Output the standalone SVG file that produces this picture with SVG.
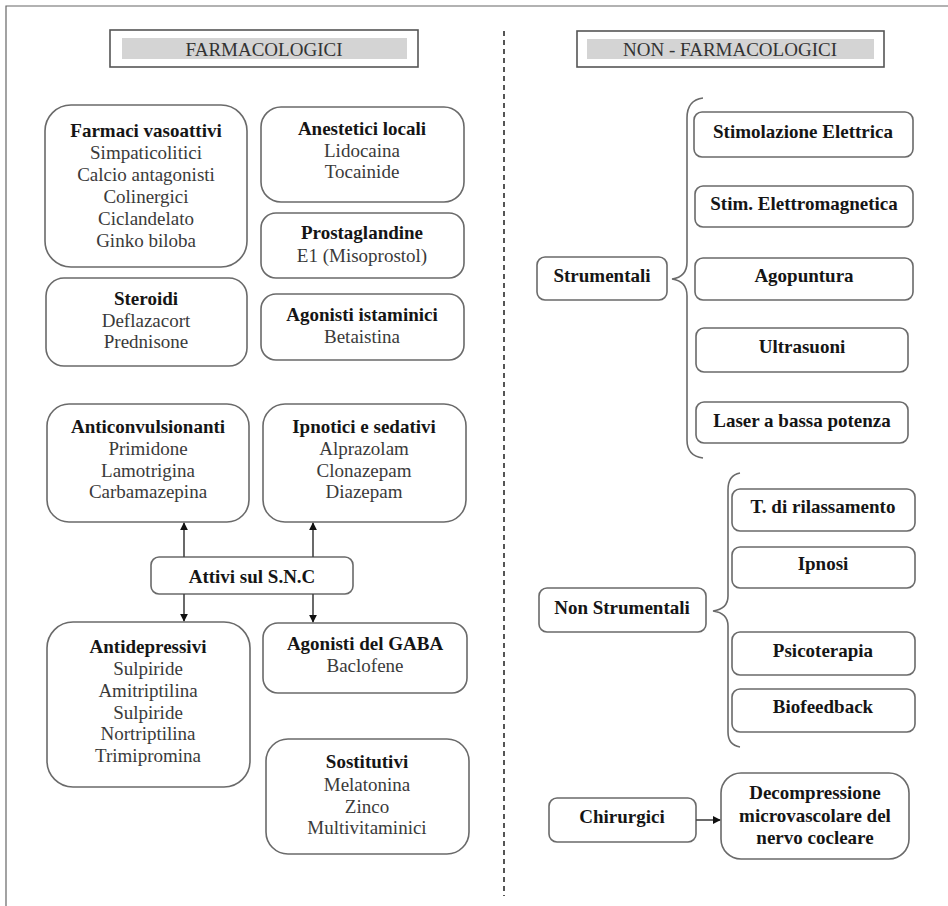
<svg xmlns="http://www.w3.org/2000/svg" width="948" height="906" viewBox="0 0 948 906">
<style>
.box{fill:#fff;stroke:#6a6a6a;stroke-width:1.6}
.hdr{fill:#fff;stroke:#555;stroke-width:1.6}
.bar{fill:#d4d4d4}
.t{font-family:"Liberation Serif","Times New Roman",serif;font-size:19px;text-anchor:middle}
.b{font-weight:bold;fill:#151515}
.r{fill:#3a3a3a}
.h{fill:#333;font-size:19px}
.ln{fill:none;stroke:#444;stroke-width:1.6}
.br{fill:none;stroke:#6a6a6a;stroke-width:1.6}
</style>
<defs>
<marker id="ah" viewBox="0 0 10 10" refX="9" refY="5" markerWidth="8" markerHeight="8" orient="auto-start-reverse" markerUnits="userSpaceOnUse">
<path d="M0,0 L10,5 L0,10 z" fill="#111"/>
</marker>
</defs>
<rect width="948" height="906" fill="#fff"/>
<path d="M6,906 L6,6 L948,6" fill="none" stroke="#666" stroke-width="1.2"/>
<line x1="504" y1="31" x2="504" y2="896" stroke="#555" stroke-width="2" stroke-dasharray="5,4"/>

<g id="hdr-farm">
<rect class="hdr" x="110" y="30" width="308" height="37"/>
<rect class="bar" x="122" y="38" width="285" height="21"/>
<text class="t h" x="264" y="56">FARMACOLOGICI</text>
</g>
<g id="hdr-nonfarm">
<rect class="hdr" x="577" y="31" width="307" height="36"/>
<rect class="bar" x="587" y="39" width="287" height="20"/>
<text class="t h" x="730" y="56">NON - FARMACOLOGICI</text>
</g>

<g id="vasoattivi">
<rect class="box" x="45" y="105" width="202" height="162" rx="26"/>
<text class="t b" x="146" y="137">Farmaci vasoattivi</text>
<text class="t r" x="146" y="159">Simpaticolitici</text>
<text class="t r" x="146" y="181">Calcio antagonisti</text>
<text class="t r" x="146" y="203">Colinergici</text>
<text class="t r" x="146" y="225">Ciclandelato</text>
<text class="t r" x="146" y="247">Ginko biloba</text>
</g>
<g id="anestetici">
<rect class="box" x="261" y="107" width="203" height="95" rx="20"/>
<text class="t b" x="362" y="135">Anestetici locali</text>
<text class="t r" x="362" y="157">Lidocaina</text>
<text class="t r" x="362" y="178">Tocainide</text>
</g>
<g id="prostaglandine">
<rect class="box" x="261" y="213" width="203" height="65" rx="15"/>
<text class="t b" x="362" y="239">Prostaglandine</text>
<text class="t r" x="362" y="262">E1 (Misoprostol)</text>
</g>
<g id="steroidi">
<rect class="box" x="46" y="278" width="201" height="88" rx="18"/>
<text class="t b" x="146" y="305">Steroidi</text>
<text class="t r" x="146" y="327">Deflazacort</text>
<text class="t r" x="146" y="348">Prednisone</text>
</g>
<g id="istaminici">
<rect class="box" x="261" y="294" width="203" height="66" rx="15"/>
<text class="t b" x="362" y="321">Agonisti istaminici</text>
<text class="t r" x="362" y="343">Betaistina</text>
</g>
<g id="anticonvulsionanti">
<rect class="box" x="47" y="404" width="202" height="118" rx="22"/>
<text class="t b" x="148" y="433">Anticonvulsionanti</text>
<text class="t r" x="148" y="455">Primidone</text>
<text class="t r" x="148" y="477">Lamotrigina</text>
<text class="t r" x="148" y="498">Carbamazepina</text>
</g>
<g id="ipnotici">
<rect class="box" x="263" y="404" width="203" height="118" rx="22"/>
<text class="t b" x="364" y="433">Ipnotici e sedativi</text>
<text class="t r" x="364" y="455">Alprazolam</text>
<text class="t r" x="364" y="477">Clonazepam</text>
<text class="t r" x="364" y="498">Diazepam</text>
</g>
<g id="snc">
<rect class="box" x="151" y="557" width="202" height="37" rx="8"/>
<text class="t b" x="252" y="583">Attivi sul S.N.C</text>
</g>
<g id="antidepressivi">
<rect class="box" x="47" y="622" width="203" height="165" rx="26"/>
<text class="t b" x="148" y="653">Antidepressivi</text>
<text class="t r" x="148" y="675">Sulpiride</text>
<text class="t r" x="148" y="697">Amitriptilina</text>
<text class="t r" x="148" y="719">Sulpiride</text>
<text class="t r" x="148" y="740">Nortriptilina</text>
<text class="t r" x="148" y="762">Trimipromina</text>
</g>
<g id="gaba">
<rect class="box" x="263" y="623" width="204" height="70" rx="15"/>
<text class="t b" x="365" y="650">Agonisti del GABA</text>
<text class="t r" x="365" y="672">Baclofene</text>
</g>
<g id="sostitutivi">
<rect class="box" x="266" y="739" width="203" height="115" rx="22"/>
<text class="t b" x="367" y="768">Sostitutivi</text>
<text class="t r" x="367" y="791">Melatonina</text>
<text class="t r" x="367" y="813">Zinco</text>
<text class="t r" x="367" y="834">Multivitaminici</text>
</g>

<g id="strumentali">
<rect class="box" x="537" y="257" width="130" height="43" rx="8"/>
<text class="t b" x="602" y="282">Strumentali</text>
</g>
<g id="stim-elettrica">
<rect class="box" x="694" y="112" width="219" height="45" rx="8"/>
<text class="t b" x="803" y="138">Stimolazione Elettrica</text>
</g>
<g id="stim-elettromagnetica">
<rect class="box" x="695" y="186" width="218" height="41" rx="8"/>
<text class="t b" x="804" y="210">Stim. Elettromagnetica</text>
</g>
<g id="agopuntura">
<rect class="box" x="695" y="258" width="218" height="42" rx="8"/>
<text class="t b" x="804" y="282">Agopuntura</text>
</g>
<g id="ultrasuoni">
<rect class="box" x="696" y="328" width="212" height="44" rx="8"/>
<text class="t b" x="802" y="353">Ultrasuoni</text>
</g>
<g id="laser">
<rect class="box" x="696" y="402" width="212" height="41" rx="8"/>
<text class="t b" x="802" y="427">Laser a bassa potenza</text>
</g>

<g id="non-strumentali">
<rect class="box" x="539" y="588" width="167" height="44" rx="8"/>
<text class="t b" x="622" y="614">Non Strumentali</text>
</g>
<g id="rilassamento">
<rect class="box" x="732" y="489" width="183" height="42" rx="8"/>
<text class="t b" x="823" y="513">T. di rilassamento</text>
</g>
<g id="ipnosi">
<rect class="box" x="732" y="547" width="183" height="41" rx="8"/>
<text class="t b" x="823" y="570">Ipnosi</text>
</g>
<g id="psicoterapia">
<rect class="box" x="732" y="632" width="183" height="43" rx="8"/>
<text class="t b" x="823" y="657">Psicoterapia</text>
</g>
<g id="biofeedback">
<rect class="box" x="732" y="689" width="183" height="43" rx="8"/>
<text class="t b" x="823" y="713">Biofeedback</text>
</g>

<g id="chirurgici">
<rect class="box" x="549" y="798" width="147" height="44" rx="8"/>
<text class="t b" x="622" y="823">Chirurgici</text>
</g>
<g id="decompressione">
<rect class="box" x="721" y="773" width="188" height="86" rx="20"/>
<text class="t b" x="815" y="799">Decompressione</text>
<text class="t b" x="815" y="822">microvascolare del</text>
<text class="t b" x="815" y="844">nervo cocleare</text>
</g>

<g id="connectors">
<line class="ln" x1="184" y1="557" x2="184" y2="523" marker-end="url(#ah)"/>
<line class="ln" x1="313" y1="557" x2="313" y2="523" marker-end="url(#ah)"/>
<line class="ln" x1="184" y1="594" x2="184" y2="621" marker-end="url(#ah)"/>
<line class="ln" x1="313" y1="594" x2="313" y2="622" marker-end="url(#ah)"/>
<line class="ln" x1="696" y1="820" x2="720" y2="820" marker-end="url(#ah)"/>
<path class="br" d="M703,98 Q687,100 687,118 L687,262 Q687,277 672,279 Q687,281 687,296 L687,440 Q687,456 703,458"/>
<path class="br" d="M740,473 Q728,475 728,490 L728,596 Q728,609 713,611 Q728,613 728,626 L728,732 Q728,745 740,747"/>
</g>
</svg>
